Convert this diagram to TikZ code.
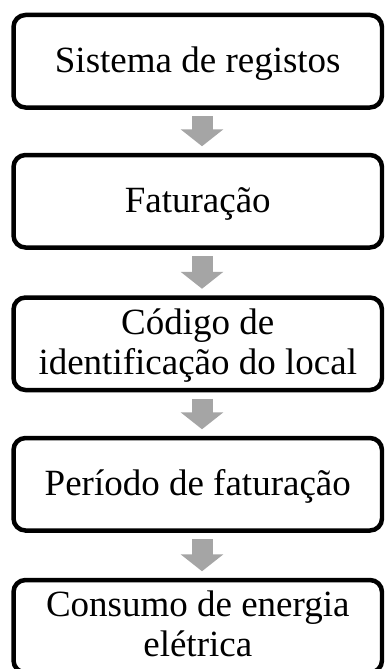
\documentclass[tikz,border=0pt]{standalone}
\usepackage{fontspec}
\setmainfont{Liberation Serif}
\usetikzlibrary{arrows.meta,calc}
\definecolor{arrowgray}{HTML}{A5A5A5}
\tikzset{
  stepbox/.style={draw=black, line width=4.5pt, rounded corners=12pt, fill=white,
    minimum width=368.5pt, minimum height=92.5pt, inner sep=0pt, align=center,
    font=\fontsize{37}{40}\selectfont},
  oneline/.style={text height=29.6pt, text depth=7.4pt},
  twoline/.style={text height=69.6pt, text depth=8.6pt},
  blockarrow/.style={draw=arrowgray, line width=21pt,
    -{Triangle[length=17pt 0 0, width=42pt 0 0, fill=arrowgray]}}
}
\begin{document}
\begin{tikzpicture}[x=1pt,y=-1pt]
\clip (0,0) rectangle (384,669);
\fill[white] (0,0) rectangle (384,669);
\node[stepbox, oneline] (b1) at (197.75,61.25) {Sistema de registos};
\node[stepbox, oneline] (b2) at (197.75,201.25) {Faturação};
\node[stepbox, twoline] (b3) at (197.75,343.75) {Código de\\identificação do local};
\node[stepbox, oneline] (b4) at (197.75,484.25) {Período de faturação};
\node[stepbox, twoline] (b5) at (197.75,626.25) {Consumo de energia\\elétrica};
\foreach \a/\b in {b1/b2, b2/b3, b3/b4, b4/b5}{
  \draw[blockarrow] ($(\a.south)+(4.25,6.5)$) -- ($(\b.north)+(4.25,-6.5)$);
}
\end{tikzpicture}
\end{document}
